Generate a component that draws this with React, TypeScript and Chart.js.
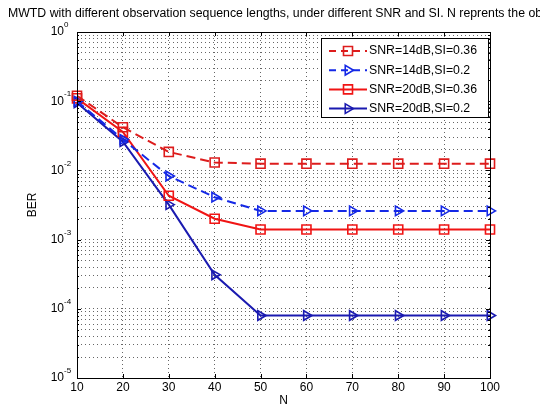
import React, { useEffect, useRef } from 'react';
import { Chart, registerables } from 'chart.js';
Chart.register(...registerables);

const titleText = 'MWTD with different observation sequence lengths, under different SNR and SI. N reprents the ob';
const xLabel = 'N';
const yLabel = 'BER';
const nValues = [10, 20, 30, 40, 50, 60, 70, 80, 90, 100];
const ber14dB036 = [0.12, 0.042, 0.0185, 0.013, 0.0125, 0.0125, 0.0125, 0.0125, 0.0125, 0.0125];
const ber14dB02 = [0.1, 0.028, 0.0083, 0.0041, 0.0026, 0.0026, 0.0026, 0.0026, 0.0026, 0.0026];
const ber20dB036 = [0.11, 0.036, 0.0043, 0.002, 0.0014, 0.0014, 0.0014, 0.0014, 0.0014, 0.0014];
const ber20dB02 = [0.095, 0.026, 0.0032, 0.00031, 0.00008, 0.00008, 0.00008, 0.00008, 0.00008, 0.00008];
const seriesNames = ['SNR=14dB,SI=0.36', 'SNR=14dB,SI=0.2', 'SNR=20dB,SI=0.36', 'SNR=20dB,SI=0.2'];
const yDecadeExponents = [-5, -4, -3, -2, -1, 0];

const FONT = '"Liberation Sans", Arial, sans-serif';

type Style = { color: string; dash: number[]; marker: 'rect' | 'triangle' };
const styles: Style[] = [
  { color: '#dd1c1c', dash: [9, 5], marker: 'rect' },
  { color: '#1428e6', dash: [9, 5], marker: 'triangle' },
  { color: '#f01414', dash: [], marker: 'rect' },
  { color: '#1a1ab0', dash: [], marker: 'triangle' },
];
const seriesData = [ber14dB036, ber14dB02, ber20dB036, ber20dB02];

function drawMarker(ctx: CanvasRenderingContext2D, kind: string, x: number, y: number, color: string) {
  ctx.save();
  ctx.setLineDash([]);
  ctx.strokeStyle = color;
  ctx.lineWidth = 1.6;
  ctx.beginPath();
  if (kind === 'rect') {
    ctx.rect(x - 4.5, y - 4.5, 9, 9);
  } else {
    ctx.moveTo(x + 5.5, y);
    ctx.lineTo(x - 2.75, y - 4.8);
    ctx.lineTo(x - 2.75, y + 4.8);
    ctx.closePath();
  }
  ctx.stroke();
  ctx.restore();
}

const matlabPlugin = {
  id: 'matlabDecor',
  beforeDraw(chart: any) {
    const ctx = chart.ctx;
    ctx.save();
    ctx.fillStyle = '#ffffff';
    ctx.fillRect(0, 0, chart.width, chart.height);
    ctx.restore();
  },
  afterDatasetsDraw(chart: any) {
    const ctx: CanvasRenderingContext2D = chart.ctx;
    const a = chart.chartArea;
    const xs = chart.scales.x;
    const ys = chart.scales.y;
    ctx.save();
    ctx.strokeStyle = '#000';
    ctx.lineWidth = 1;
    ctx.setLineDash([]);
    ctx.beginPath();
    xs.ticks.forEach((t: any) => {
      const px = Math.round(xs.getPixelForValue(t.value)) + 0.5;
      ctx.moveTo(px, a.bottom);
      ctx.lineTo(px, a.bottom - 4);
      ctx.moveTo(px, a.top);
      ctx.lineTo(px, a.top + 4);
    });
    ys.ticks.forEach((t: any) => {
      const py = Math.round(ys.getPixelForValue(t.value)) + 0.5;
      const len = t.major ? 4 : 2;
      ctx.moveTo(a.left, py);
      ctx.lineTo(a.left + len, py);
      ctx.moveTo(a.right, py);
      ctx.lineTo(a.right - len, py);
    });
    ctx.stroke();
    ctx.strokeRect(Math.round(a.left) + 0.5, Math.round(a.top) + 0.5, Math.round(a.right - a.left), Math.round(a.bottom - a.top));
    ctx.restore();
  },
  afterDraw(chart: any) {
    const ctx: CanvasRenderingContext2D = chart.ctx;
    const a = chart.chartArea;
    const xs = chart.scales.x;
    const ys = chart.scales.y;
    ctx.save();
    ctx.fillStyle = '#000';
    ctx.font = `12.3px ${FONT}`;
    ctx.textAlign = 'left';
    ctx.textBaseline = 'middle';
    ctx.fillText(titleText, 8, 14);
    ctx.font = `12px ${FONT}`;
    ctx.textAlign = 'center';
    ctx.textBaseline = 'top';
    xs.ticks.forEach((t: any) => {
      ctx.fillText(String(t.value), xs.getPixelForValue(t.value), a.bottom + 4);
    });
    ctx.fillText(xLabel, (a.left + a.right) / 2, a.bottom + 17);
    yDecadeExponents.forEach((e) => {
      const py = ys.getPixelForValue(Math.pow(10, e));
      ctx.font = `12px ${FONT}`;
      ctx.textAlign = 'right';
      ctx.textBaseline = 'middle';
      ctx.fillText('10', a.left - 13, py);
      ctx.font = `8px ${FONT}`;
      ctx.textAlign = 'left';
      ctx.fillText(String(e), a.left - 13, py - 7);
    });
    ctx.font = `12px ${FONT}`;
    ctx.save();
    ctx.translate(33, (a.top + a.bottom) / 2);
    ctx.rotate(-Math.PI / 2);
    ctx.textAlign = 'center';
    ctx.textBaseline = 'middle';
    ctx.fillText(yLabel, 0, 0);
    ctx.restore();
    const lx = Math.round(a.right) - 169;
    const ly = Math.round(a.top) + 6;
    const lw = 167;
    const lh = 79;
    ctx.fillStyle = '#fff';
    ctx.fillRect(lx, ly, lw, lh);
    ctx.strokeStyle = '#000';
    ctx.lineWidth = 1;
    ctx.setLineDash([]);
    ctx.strokeRect(lx + 0.5, ly + 0.5, lw, lh);
    chart.data.datasets.forEach((ds: any, i: number) => {
      const st = styles[i];
      const y = ly + 13 + i * 19.2;
      ctx.save();
      ctx.strokeStyle = st.color;
      ctx.lineWidth = 2;
      ctx.setLineDash(st.dash.length ? [7, 5] : []);
      ctx.beginPath();
      ctx.moveTo(lx + 8, y);
      ctx.lineTo(lx + 46, y);
      ctx.stroke();
      ctx.restore();
      drawMarker(ctx, st.marker, lx + 27, y, st.color);
      ctx.fillStyle = '#000';
      ctx.font = `12.3px ${FONT}`;
      ctx.textAlign = 'left';
      ctx.textBaseline = 'middle';
      ctx.fillText(ds.label, lx + 48, y);
    });
    ctx.restore();
  },
};

export default function App() {
  const ref = useRef<HTMLCanvasElement | null>(null);
  useEffect(() => {
    if (!ref.current) return;
    const chart = new Chart(ref.current, {
      type: 'line',
      data: {
        labels: nValues,
        datasets: seriesData.map((vals, i) => ({
          label: seriesNames[i],
          data: nValues.map((n, j) => ({ x: n, y: vals[j] })),
          borderColor: styles[i].color,
          borderWidth: 2,
          borderDash: styles[i].dash,
          pointStyle: styles[i].marker,
          pointRotation: styles[i].marker === 'triangle' ? 90 : 0,
          pointRadius: styles[i].marker === 'rect' ? 6.4 : 5.5,
          pointBorderWidth: 1.6,
          pointBorderColor: styles[i].color,
          pointBackgroundColor: 'rgba(0,0,0,0)',
          fill: false,
          tension: 0,
          clip: false,
        })) as any,
      },
      options: {
        animation: false,
        responsive: false,
        events: [],
        layout: { padding: { left: 77, right: 50, top: 32, bottom: 34 } },
        plugins: { legend: { display: false }, title: { display: false }, tooltip: { enabled: false } },
        scales: {
          x: {
            type: 'linear',
            min: 10,
            max: 100,
            ticks: { display: false, stepSize: 10 },
            grid: { display: true, drawTicks: false, color: 'rgba(0,0,0,0.6)', lineWidth: 1 },
            border: { display: false, dash: [1, 3] },
          },
          y: {
            type: 'logarithmic',
            min: 1e-5,
            max: 1,
            afterBuildTicks: (scale: any) => {
              const ticks: any[] = [];
              yDecadeExponents.forEach((e) => {
                const mults = e === 0 ? [1] : [1, 2, 3, 4, 5, 6, 7, 8, 9];
                mults.forEach((m) => ticks.push({ value: m * Math.pow(10, e), major: m === 1 }));
              });
              scale.ticks = ticks;
            },
            ticks: { display: false },
            grid: { display: true, drawTicks: false, color: 'rgba(0,0,0,0.6)', lineWidth: 1 },
            border: { display: false, dash: [1, 3] },
          },
        },
      } as any,
      plugins: [matlabPlugin],
    });
    return () => chart.destroy();
  }, []);
  return (
    <div style={{ position: 'fixed', left: 0, top: 0, width: 540, height: 412, background: '#fff' }}>
      <canvas ref={ref} width={540} height={412} style={{ display: 'block', width: 540, height: 412 }} />
    </div>
  );
}
